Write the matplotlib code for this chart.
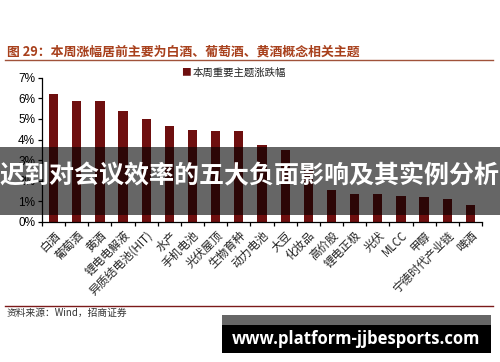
import matplotlib
matplotlib.use("Agg")
import matplotlib.pyplot as plt
from matplotlib.lines import Line2D
from matplotlib.patches import Rectangle
from matplotlib.ticker import PercentFormatter, FixedLocator

plt.rcParams['font.family'] = ['Noto Sans CJK SC', 'DejaVu Sans']

# 数据：本周重要主题涨跌幅
themes = ["白酒", "葡萄酒", "黄酒", "锂电电解液", "异质结电池(HIT)", "水产", "手机电池",
          "光伏屋顶", "生物育种", "动力电池", "大豆", "化妆品", "高价股", "锂电正极",
          "光伏", "MLCC", "甲醇", "宁德时代产业链", "啤酒"]
pct = [6.2, 5.85, 5.85, 5.4, 5.0, 4.65, 4.45, 4.4, 4.4, 3.75, 3.5, 2.63,
       1.55, 1.35, 1.35, 1.25, 1.2, 1.1, 0.8]
yticks = [0, 1, 2, 3, 4, 5, 6, 7]

title = "图 29：本周涨幅居前主要为白酒、葡萄酒、黄酒概念相关主题"
legend_label = "本周重要主题涨跌幅"
source = "资料来源：Wind，招商证券"
banner = "迟到对会议效率的五大负面影响及其实例分析"
watermark = "www.platform-jjbesports.com"

BAR = "#6e0f0f"

fig = plt.figure(figsize=(5.0, 3.62), dpi=100)
ax = fig.add_axes([0.084, 0.387, 0.88, 0.398])

x = list(range(len(themes)))
ax.bar(x, pct, width=0.4, color=BAR, zorder=2)
ax.set_xlim(-0.5, len(themes) - 0.5)
ax.set_ylim(0, 7)
ax.yaxis.set_major_locator(FixedLocator(yticks))
ax.yaxis.set_major_formatter(PercentFormatter(decimals=0))
for s in ["top", "right"]:
    ax.spines[s].set_visible(False)
for s in ["left", "bottom"]:
    ax.spines[s].set_color("black")
    ax.spines[s].set_linewidth(0.9)
ax.tick_params(axis="y", length=3, width=0.9, labelsize=8.5, pad=2)
for lab in ax.get_yticklabels():
    lab.set_family("Liberation Sans")

# 类别标签与分隔刻度
ax.set_xticks(x)
ax.set_xticklabels(themes, rotation=45, ha="right", rotation_mode="anchor",
                   fontsize=8.3, color="#222222")
ax.tick_params(axis="x", which="major", length=0, pad=5)
ax.set_xticks([i - 0.5 for i in range(len(themes) + 1)], minor=True)
ax.tick_params(axis="x", which="minor", length=3, width=0.9, direction="out")

# 图例
fig.text(0.362, 0.800, "■", color=BAR, fontsize=7, va="center", ha="left")
fig.text(0.385, 0.800, legend_label, fontsize=7.5, va="center", ha="left", color="#222222")

# 标题与分隔线
fig.text(0.014, 0.858, title, fontsize=9.3, fontweight="bold", color="#a8401c",
         va="center", ha="left")
fig.add_artist(Line2D([0.01, 0.986], [0.834, 0.834], color="#a0523a", lw=1.0))
fig.add_artist(Line2D([0.01, 0.986], [0.156, 0.156], color="#7b1a1a", lw=1.0))
fig.text(0.014, 0.135, source, fontsize=7, va="center", ha="left", color="#333333")

# 横幅遮罩
fig.add_artist(Rectangle((0, 0.406), 1, 0.188, transform=fig.transFigure,
                         facecolor="#000000", alpha=0.6, edgecolor="none", zorder=5))
fig.text(0.5, 0.513, banner, fontsize=18, fontweight="bold", color="white",
         ha="center", va="center", zorder=6)

# 水印
fig.add_artist(Rectangle((0.444, 0.025), 0.538, 0.105, transform=fig.transFigure,
                         facecolor="black", edgecolor="none", zorder=5))
fig.add_artist(Rectangle((0.444, 0.102), 0.538, 0.028, transform=fig.transFigure,
                         facecolor="#666666", edgecolor="none", zorder=6))
fig.text(0.713, 0.064, watermark, fontsize=12, fontweight="bold", color="white",
         family="Open Sans", ha="center", va="center", zorder=7)

fig.savefig("out.png", dpi=100)
